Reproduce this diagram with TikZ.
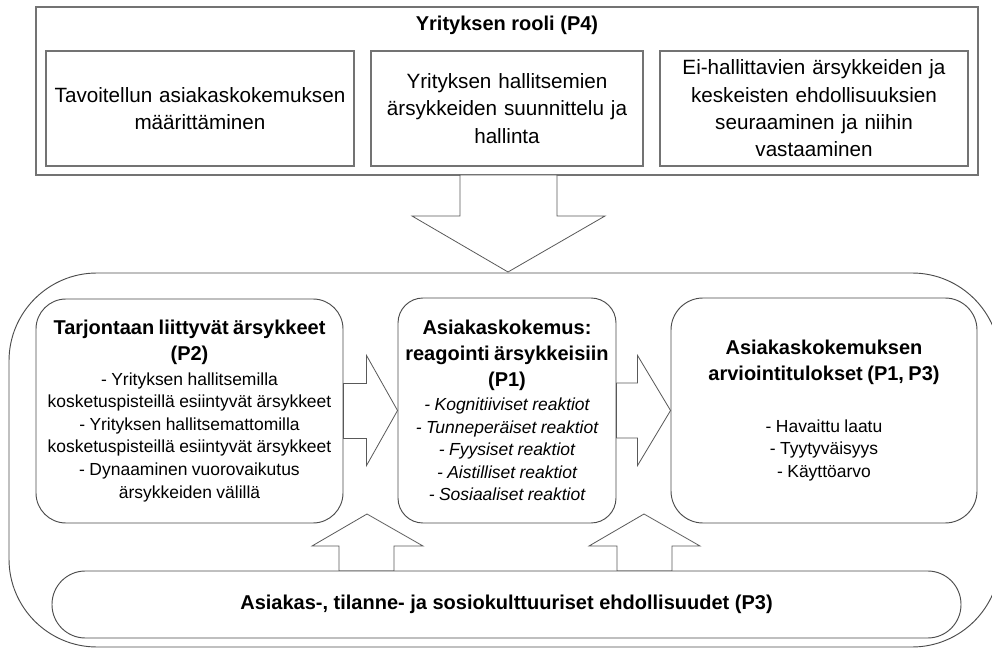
\documentclass[tikz,border=0pt]{standalone}
\usepackage{fontspec}
\setmainfont{Liberation Sans}
\usetikzlibrary{calc}

% type sizes: headings, list items, company-role boxes
\newcommand\hdfont{\fontsize{15pt}{19.5pt}\selectfont\bfseries}
\newcommand\bdfont{\fontsize{13.1pt}{16.9pt}\selectfont}
\newcommand\tpfont{\fontsize{15.5pt}{20.5pt}\selectfont}

\tikzset{
  frame/.style={draw=black!55, line width=0.85pt, fill=white, inner sep=0pt},
  rolebox/.style={frame, minimum height=86.25pt, align=center, font=\tpfont},
  panel/.style={draw=black!70, line width=0.7pt, fill=white, inner sep=0pt,
    align=center, execute at begin node=\setlength{\parskip}{0pt}},
  blockarrow/.style={draw=black!65, line width=0.6pt, fill=white, line join=miter},
  outline/.style={draw=black!70, line width=0.7pt}
}

\begin{document}
\begin{tikzpicture}[x=0.75pt, y=-0.75pt]
\useasboundingbox (0,0) rectangle (992,648);
\clip (0,0) rectangle (992,648);

% company role
\node[frame, minimum width=706.5pt, minimum height=126pt] (role) at (507,91) {};
\node[font=\hdfont, inner sep=0pt] (roletitle) at (507,25) {Yrityksen rooli (P4)};
\node[rolebox, minimum width=231pt, text width=225pt] (define) at (200,108.5)
  {Tavoitellun asiakaskokemuksen\\määrittäminen};
\node[rolebox, minimum width=204pt, text width=198pt] (design) at (507,108.5)
  {Yrityksen hallitsemien\\ärsykkeiden suunnittelu ja\\hallinta};
\node[rolebox, minimum width=231pt, text width=225pt] (monitor) at (814,108.5)
  {Ei-hallittavien ärsykkeiden ja\\keskeisten ehdollisuuksien\\seuraaminen ja niihin\\vastaaminen};

% surrounding frame of the experience process
\draw[outline, rounded corners=66pt] (9,273) rectangle (1000,647);

% company role feeds the process
\draw[blockarrow] (460,175) -- (460,216) -- (412,216) -- (508,272)
  -- (605,216) -- (557,216) -- (557,175) -- cycle;

% the three stages
\node[panel, rounded corners=22.5pt, minimum width=230.25pt, minimum height=168pt,
  text width=226pt] (stim) at (189.5,411)
  {{\hdfont Tarjontaan liittyvät ärsykkeet\\(P2)\par}
   \vspace{1.5pt}
   {\bdfont - Yrityksen hallitsemilla\\kosketuspisteillä esiintyvät ärsykkeet\\- Yrityksen hallitsemattomilla\\kosketuspisteillä esiintyvät ärsykkeet\\- Dynaaminen vuorovaikutus\\ärsykkeiden välillä\par}};

\node[panel, rounded corners=18.75pt, minimum width=163.5pt, minimum height=168.75pt,
  text width=160pt] (resp) at (507,410.5)
  {{\hdfont Asiakaskokemus:\\reagointi ärsykkeisiin\\(P1)\par}
   \vspace{1.5pt}
   {\bdfont\itshape - Kognitiiviset reaktiot\\- Tunneperäiset reaktiot\\- Fyysiset reaktiot\\- Aistilliset reaktiot\\- Sosiaaliset reaktiot\par}};

\node[panel, rounded corners=24pt, minimum width=229.5pt, minimum height=168.75pt,
  text width=225pt] (eval) at (824,410.5)
  {{\hdfont Asiakaskokemuksen\\arviointitulokset (P1, P3)\par}
   \vspace{22pt}
   {\bdfont - Havaittu laatu\\- Tyytyväisyys\\- Käyttöarvo\par}};

% stage-to-stage block arrows
\draw[blockarrow] ($(stim.east)+(0,-27.5)$) -| ($(resp.west)+(-31,-55)$)
  -- (resp.west) -- ($(resp.west)+(-31,55)$) |- ($(stim.east)+(0,27.5)$) -- cycle;
\draw[blockarrow] ($(resp.east)+(0,-27.5)$) -| ($(eval.west)+(-33,-55)$)
  -- (eval.west) -- ($(eval.west)+(-33,55)$) |- ($(resp.east)+(0,27.5)$) -- cycle;

% contingencies pushing upwards
\coordinate (tipA) at (367,514);
\coordinate (tipB) at (644,514);
\draw[blockarrow] (339,571) -- (339,546) -- (312,546) -- (tipA)
  -- (423,546) -- (394,546) -- (394,571) -- cycle;
\draw[blockarrow] (617,571) -- (617,546) -- (589,546) -- (tipB)
  -- (700,546) -- (672,546) -- (672,571) -- cycle;

\node[panel, rounded corners=25pt, minimum width=681.75pt, minimum height=50.25pt]
  (ctx) at (506.5,604.5)
  {\hdfont Asiakas-, tilanne- ja sosiokulttuuriset ehdollisuudet (P3)};
\end{tikzpicture}
\end{document}
